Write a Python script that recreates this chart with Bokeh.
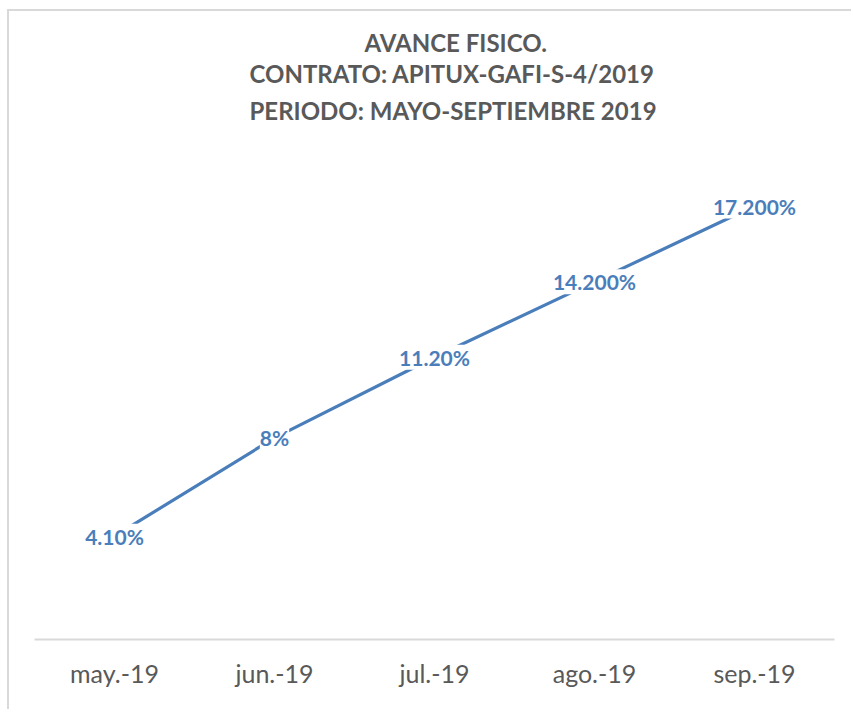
from bokeh.plotting import figure
from bokeh.models import ColumnDataSource, LabelSet, Title, FactorRange, Range1d
from bokeh.core.properties import value
from bokeh.embed import file_html
from bokeh.resources import INLINE

months = ["may.-19", "jun.-19", "jul.-19", "ago.-19", "sep.-19"]
avance = [4.1, 8.0, 11.2, 14.2, 17.2]
etiquetas = ["4.10%", "8%", "11.20%", "14.200%", "17.200%"]
title_lines = ["AVANCE FISICO.", "CONTRATO: APITUX-GAFI-S-4/2019", "PERIODO: MAYO-SEPTIEMBRE 2019"]

FONT = "Lato"
GRAY = "#595959"
BLUE = "#4a7ebb"

src = ColumnDataSource(dict(month=months, avance=avance, label=etiquetas))

p = figure(x_range=FactorRange(*months), y_range=Range1d(0, 20),
           width=844, height=700, output_backend="svg", toolbar_location=None,
           min_border_left=25, min_border_right=19, min_border_top=124, min_border_bottom=72,
           styles={"margin-left": "9px", "margin-top": "11px",
                   "box-shadow": "-2px -2px 0 0 #d9d9d9"})

title_offsets = [330, 215, 215]
title_standoffs = [0, 0, 17]
title_valign = ["bottom", "bottom", "top"]
for line, off, so, va in reversed(list(zip(title_lines, title_offsets, title_standoffs, title_valign))):
    t = Title(text=line, align="left", offset=off, text_font=FONT, text_font_size="24px",
              text_font_style="bold", text_color=GRAY, standoff=so, vertical_align=va)
    p.add_layout(t, "above")

p.line("month", "avance", source=src, line_color=BLUE, line_width=3.2)
labels = LabelSet(x="month", y="avance", text="label", source=src,
                  text_align="center", text_baseline="middle",
                  text_font=value(FONT), text_font_size=value("21px"), text_font_style=value("bold"),
                  text_color=value(BLUE), background_fill_color="white")
p.add_layout(labels)

p.yaxis.visible = False
p.xgrid.visible = False
p.ygrid.visible = False
p.outline_line_color = None
p.xaxis.axis_line_color = "#d9d9d9"
p.xaxis.axis_line_width = 2
p.xaxis.major_tick_line_color = None
p.xaxis.minor_tick_line_color = None
p.xaxis.major_label_text_font = FONT
p.xaxis.major_label_text_font_size = "25px"
p.xaxis.major_label_text_color = GRAY
p.xaxis.major_label_standoff = 12

open("out.html", "w").write(file_html(p, INLINE))
